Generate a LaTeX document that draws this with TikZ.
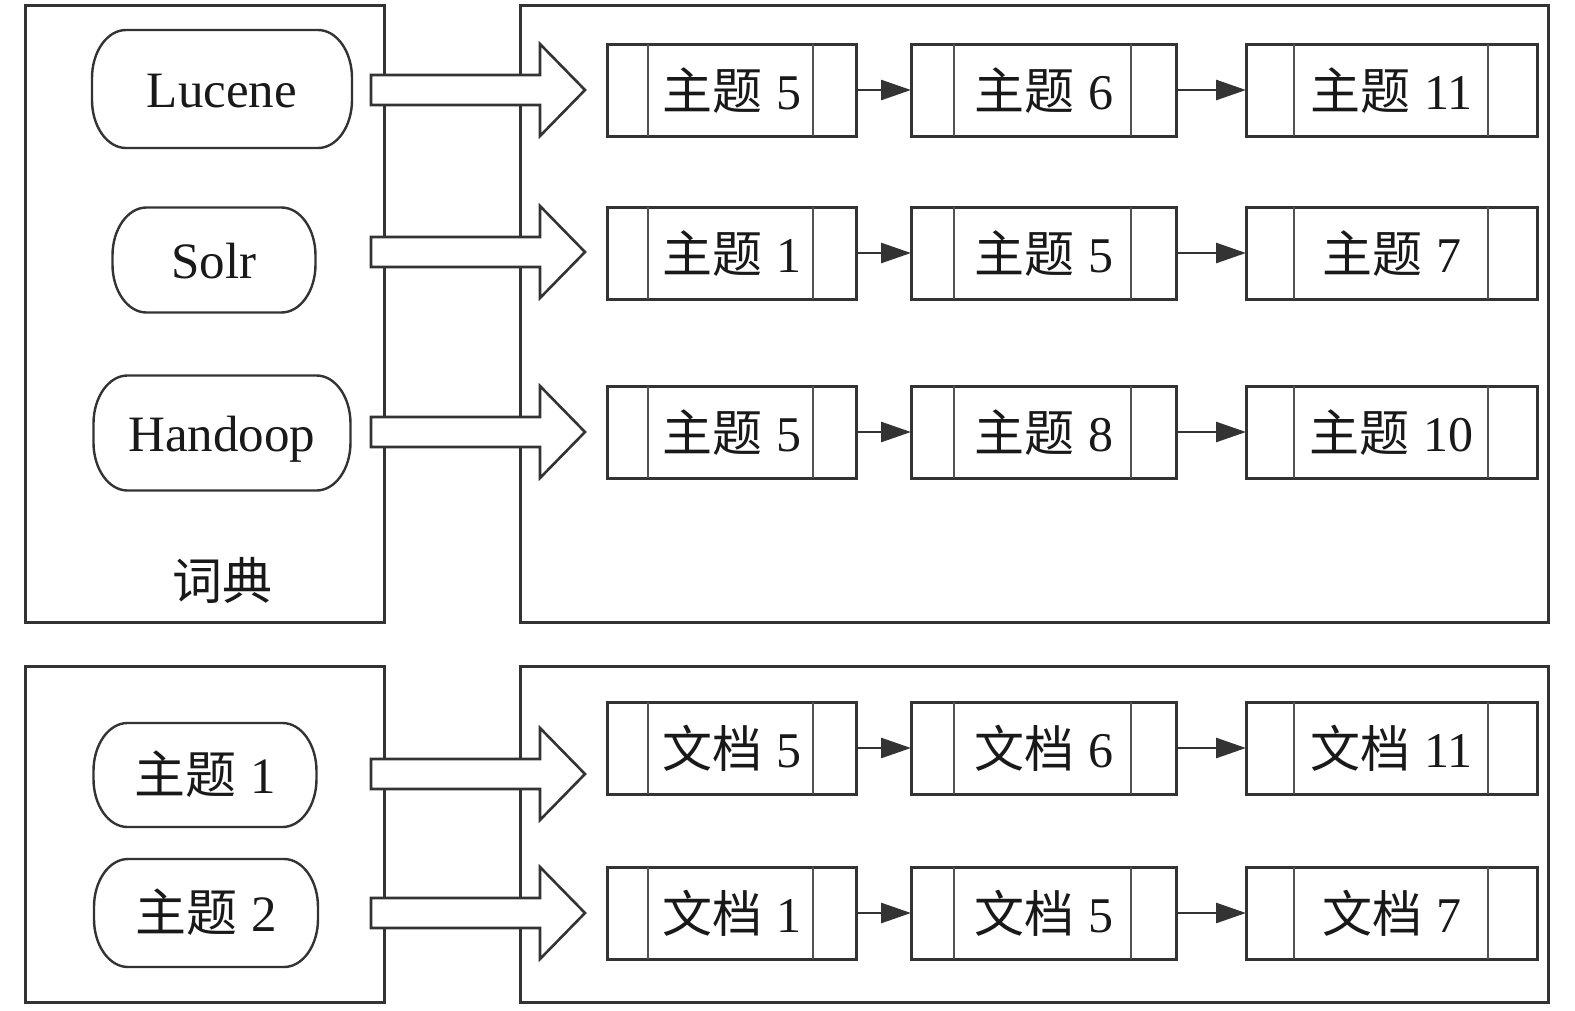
\documentclass[tikz,border=0pt]{standalone}
\usepackage{fontspec}
\setmainfont{Liberation Serif}
\newfontfamily\cjk{Noto Sans CJK SC}
\usetikzlibrary{arrows.meta,calc}
\definecolor{ink}{HTML}{333333}
\newcommand{\zt}[1]{{\cjk 主题}\hspace{14pt}#1}
\newcommand{\wdg}[1]{{\cjk 文档}\hspace{14pt}#1}
\newcommand{\pillpath}[1]{%
  \draw[pillline] ([xshift=34pt]#1.north west) -- ([xshift=-34pt]#1.north east)
    arc[start angle=90,end angle=0,x radius=34pt,y radius=48pt]
    -- ([yshift=48pt]#1.south east)
    arc[start angle=0,end angle=-90,x radius=34pt,y radius=48pt]
    -- ([xshift=34pt]#1.south west)
    arc[start angle=270,end angle=180,x radius=34pt,y radius=48pt]
    -- ([yshift=-48pt]#1.north west)
    arc[start angle=180,end angle=90,x radius=34pt,y radius=48pt] -- cycle;}
\tikzset{
  frame/.style={draw=ink, line width=3pt, inner sep=0pt, outer sep=0pt},
  pillnode/.style={inner sep=0pt, outer sep=0pt, text height=36pt, text depth=0pt,
    font=\fontsize{51}{60}\selectfont, text=black!90},
  pillline/.style={draw=ink, line width=2.4pt},
  listbox/.style={draw=ink, line width=3pt, inner sep=0pt, outer sep=0pt,
    minimum height=92pt, text height=38pt, text depth=0pt,
    font=\fontsize{50}{60}\selectfont, text=black!90},
  divider/.style={draw=ink!85, line width=2.5pt},
  link/.style={draw=ink, line width=2.7pt, -{Triangle[length=30pt,width=20pt]}},
  bigarrow/.style={draw=ink, line width=2.6pt, fill=white, line join=miter},
}
\begin{document}
\begin{tikzpicture}[x=1pt,y=-1pt]
\useasboundingbox (0,0) rectangle (1575,1010);
% frames
\node[frame, minimum width=359pt, minimum height=617pt] (dict) at (204.5,313.5) {};
\node[frame, minimum width=1028pt, minimum height=617pt] (post) at (1034,313.5) {};
\node[frame, minimum width=359pt, minimum height=336pt] (tdict) at (204.5,834) {};
\node[frame, minimum width=1028pt, minimum height=336pt] (tpost) at (1034,834) {};
\node[font=\cjk\fontsize{50}{60}\selectfont, text=black!90, inner sep=0pt] (dictlabel) at (222,580) {词典};
% pills
\node[pillnode, minimum width=260pt, minimum height=118pt] (lucene) at (222,89) {Lucene};
\node[pillnode, minimum width=203pt, minimum height=105pt] (solr) at (214,260) {Solr};
\node[pillnode, minimum width=257pt, minimum height=115pt] (hadoop) at (222,433) {Handoop};
\node[pillnode, minimum width=223pt, minimum height=104pt] (t1) at (205,775) {\zt{1}};
\node[pillnode, minimum width=224pt, minimum height=108pt] (t2) at (206,913) {\zt{2}};
\foreach \n in {lucene,solr,hadoop,t1,t2} {\pillpath{\n}}
% big arrows
\foreach \i/\y in {1/90,2/252,3/432,4/774,5/913} {
  \coordinate (s\i) at (371,\y);
  \coordinate (e\i) at (585,\y);
  \draw[bigarrow] ($(s\i)+(0,-15)$) -- ($(e\i)+(-45,-15)$) -- ($(e\i)+(-45,-46)$)
    -- (e\i) -- ($(e\i)+(-45,46)$) -- ($(e\i)+(-45,15)$) -- ($(s\i)+(0,15)$) -- cycle;
}
% list boxes
\node[listbox, minimum width=249pt] (a1) at (731.5,90) {\zt{5}};
\node[listbox, minimum width=265pt] (b1) at (1043.5,90) {\zt{6}};
\node[listbox, minimum width=291pt] (c1) at (1391.5,90) {\zt{11}};
\node[listbox, minimum width=249pt] (a2) at (731.5,253) {\zt{1}};
\node[listbox, minimum width=265pt] (b2) at (1043.5,253) {\zt{5}};
\node[listbox, minimum width=291pt] (c2) at (1391.5,253) {\zt{7}};
\node[listbox, minimum width=249pt] (a3) at (731.5,432) {\zt{5}};
\node[listbox, minimum width=265pt] (b3) at (1043.5,432) {\zt{8}};
\node[listbox, minimum width=291pt] (c3) at (1391.5,432) {\zt{10}};
\node[listbox, minimum width=249pt] (a4) at (731.5,748) {\wdg{5}};
\node[listbox, minimum width=265pt] (b4) at (1043.5,748) {\wdg{6}};
\node[listbox, minimum width=291pt] (c4) at (1391.5,748) {\wdg{11}};
\node[listbox, minimum width=249pt] (a5) at (731.5,913) {\wdg{1}};
\node[listbox, minimum width=265pt] (b5) at (1043.5,913) {\wdg{5}};
\node[listbox, minimum width=291pt] (c5) at (1391.5,913) {\wdg{7}};
\foreach \r in {1,...,5} {
  \draw[divider] ([xshift=41pt]a\r.north west) -- ([xshift=41pt]a\r.south west);
  \draw[divider] ([xshift=-43pt]a\r.north east) -- ([xshift=-43pt]a\r.south east);
  \draw[divider] ([xshift=43pt]b\r.north west) -- ([xshift=43pt]b\r.south west);
  \draw[divider] ([xshift=-45pt]b\r.north east) -- ([xshift=-45pt]b\r.south east);
  \draw[divider] ([xshift=48pt]c\r.north west) -- ([xshift=48pt]c\r.south west);
  \draw[divider] ([xshift=-49pt]c\r.north east) -- ([xshift=-49pt]c\r.south east);
  \draw[link] (a\r.east) -- (b\r.west);
  \draw[link] (b\r.east) -- (c\r.west);
}
\end{tikzpicture}
\end{document}
